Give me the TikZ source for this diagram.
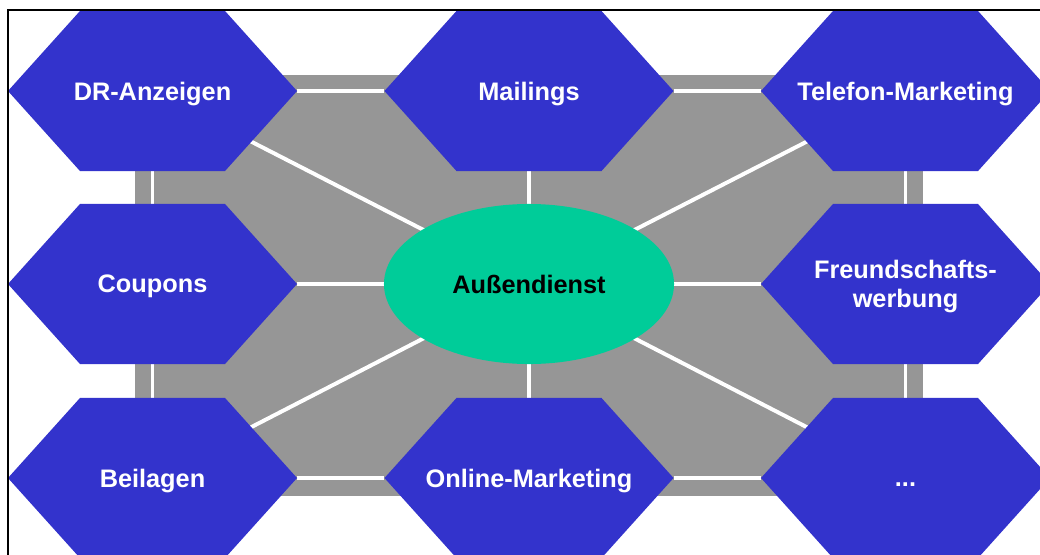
\documentclass[tikz,border=0pt]{standalone}
\usepackage{fontspec}
\setmainfont{Liberation Sans}
\usepackage{tikz}
\usepackage{tkz-graph}
\usetikzlibrary{calc,shapes.geometric,backgrounds}
\definecolor{hexblue}{HTML}{3333CC}
\definecolor{ovalgreen}{HTML}{00CC99}
\definecolor{fieldgray}{HTML}{969696}
\tikzset{
  hexbox/.style={minimum width=7.225cm,minimum height=4cm,inner sep=0pt,
    align=center,text=white,text depth=0pt,font=\fontsize{18}{21}\selectfont\bfseries,
    path picture={\fill[hexblue] (path picture bounding box.west)
      -- ([xshift=1.8cm]path picture bounding box.north west)
      -- ([xshift=-1.8cm]path picture bounding box.north east)
      -- (path picture bounding box.east)
      -- ([xshift=-1.8cm]path picture bounding box.south east)
      -- ([xshift=1.8cm]path picture bounding box.south west) -- cycle;}},
  ovalbox/.style={ellipse,fill=ovalgreen,minimum width=7.25cm,minimum height=4cm,
    inner sep=0pt,text=black,text depth=0pt,font=\fontsize{18}{21}\selectfont\bfseries}
}

\begin{document}
\begin{tikzpicture}[x=0.025cm,y=-0.025cm]
            \useasboundingbox (0,0) rectangle (1040,554);
            \clip (0,0) rectangle (1040,554);
            \GraphInit[vstyle=Normal];

            \tikzset{VertexStyle/.style={hexbox}}
            \Vertex[L=DR-Anzeigen,x=152.5,y=91]{dr};
            \Vertex[L=Mailings,x=529,y=91]{mail};
            \Vertex[L=Telefon-Marketing,x=905.5,y=91]{tel};
            \Vertex[L=Coupons,x=152.5,y=284]{coup};
            \Vertex[L={Freundschafts-\\werbung},x=905.5,y=284]{frd};
            \Vertex[L=Beilagen,x=152.5,y=478]{beil};
            \Vertex[L=Online-Marketing,x=529,y=478]{onl};
            \Vertex[L=\vphantom{B}...,x=905.5,y=478]{etc};

            \tikzset{VertexStyle/.style={ovalbox}}
            \Vertex[L=Außendienst,x=529,y=284]{ad};

            \begin{scope}[on background layer]
            \fill[fieldgray] (135,75) rectangle (923,496);
            \tikzset{EdgeStyle/.style={draw=white,line width=2.8pt}};
            \Edge(dr)(mail);
            \Edge(mail)(tel);
            \Edge(coup)(ad);
            \Edge(ad)(frd);
            \Edge(beil)(onl);
            \Edge(onl)(etc);
            \Edge(dr)(coup);
            \Edge(coup)(beil);
            \Edge(tel)(frd);
            \Edge(frd)(etc);
            \Edge(mail)(ad);
            \Edge(ad)(onl);
            \Edge(dr.center)(ad.center);
            \Edge(tel.center)(ad.center);
            \Edge(beil.center)(ad.center);
            \Edge(etc.center)(ad.center);
            \end{scope}

            \draw[line width=1.5pt] (8,10) rectangle (1046,560);
          \end{tikzpicture}
\end{document}
